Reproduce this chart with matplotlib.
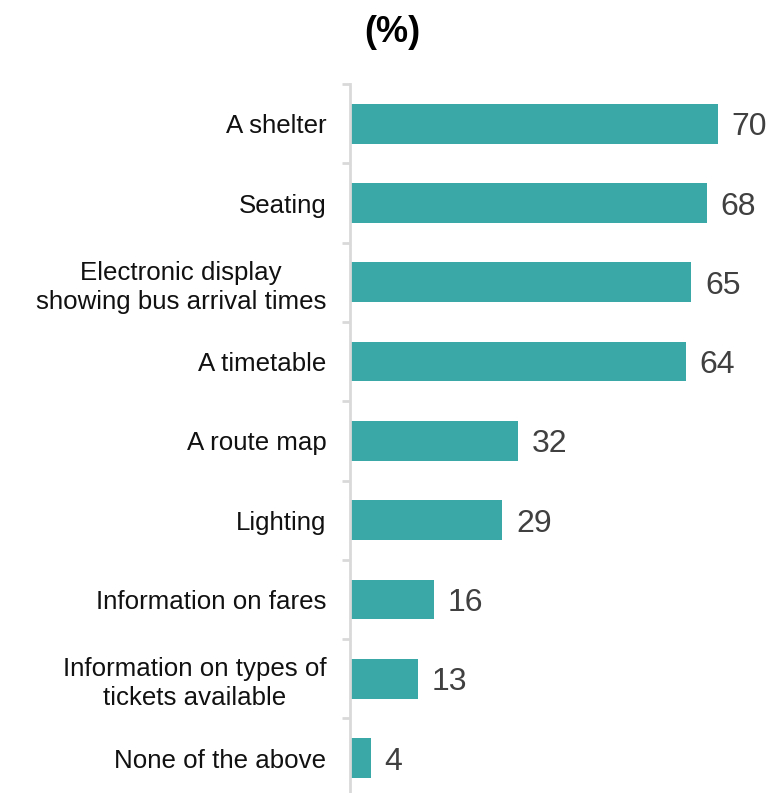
import matplotlib
matplotlib.use("Agg")
import matplotlib.pyplot as plt

categories = ["A shelter", "Seating", "Electronic display\nshowing bus arrival times",
              "A timetable", "A route map", "Lighting", "Information on fares",
              "Information on types of\ntickets available", "None of the above"]
values = [70, 68, 65, 64, 32, 29, 16, 13, 4]

plt.rcParams['font.family'] = ['Liberation Sans', 'DejaVu Sans']
fig = plt.figure(figsize=(7.74, 7.93), dpi=100)
ax = fig.add_axes([350/774, -0.006, (770-350)/774, 0.9])

n = len(categories)
ypos = list(range(n))
ax.barh(ypos, values, height=0.5, color='#3ba8a8')
ax.set_ylim(n - 0.5, -0.5)
ax.set_xlim(0, 80)
for y, v in zip(ypos, values):
    ax.text(v + 2.6, y, str(v), va='center_baseline', ha='left', fontsize=23, color='#404040')

ax.set_yticks(ypos)
ax.set_yticklabels(categories, fontsize=18.6, color='#111111', ha='right',
                   multialignment='center', linespacing=1.25)
ax.tick_params(axis='y', length=0, pad=17)
ax.set_yticks([i - 0.5 for i in range(n + 1)], minor=True)
ax.tick_params(axis='y', which='minor', length=6, width=2, color='#d9d9d9')
ax.set_xticks([])
for s in ['top', 'right', 'bottom']:
    ax.spines[s].set_visible(False)
ax.spines['left'].set_color('#d9d9d9')
ax.spines['left'].set_linewidth(2)

fig.text(392/774, 1 - 33/793, "(%)", ha='center', va='center', fontsize=26, fontweight='bold')
fig.savefig("out.png", dpi=100)
